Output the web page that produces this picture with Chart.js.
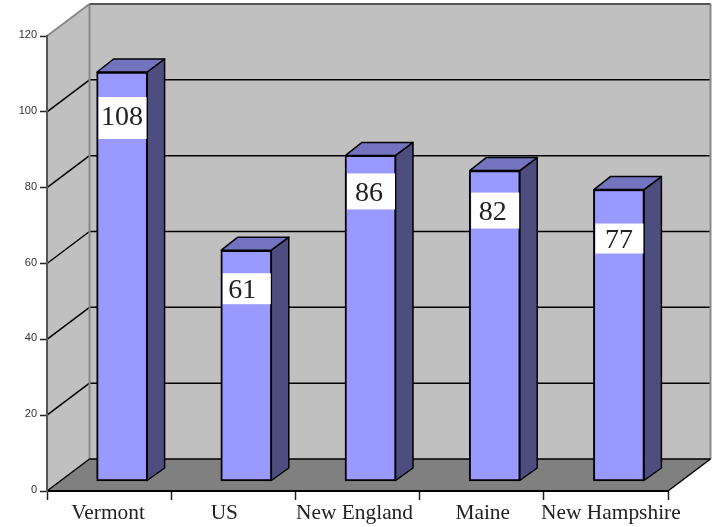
<!DOCTYPE html>
<html>
<head>
<meta charset="utf-8">
<style>
  html, body { margin: 0; padding: 0; background: #fff; }
  canvas { display: block; }
</style>
<script src="https://cdn.jsdelivr.net/npm/chart.js@4"></script>
</head>
<body>
<canvas id="chart" width="718" height="527"></canvas>
<script>
const categories = ["Vermont", "US", "New England", "Maine", "New Hampshire"];
const values = [108, 61, 86, 82, 77];
const yTicks = [0, 20, 40, 60, 80, 100, 120];

// nudge das legendas do eixo x, a referência não as centra na categoria
const labelNudge = [-1, -9, -3, 1, 5];
// caixa branca do rótulo: distância ao topo da barra e altura
const boxInset = [25, 23, 18, 22, 34];
const boxHeight = [42, 31, 36, 36, 30];
// deslocamento do número dentro da caixa
const valueNudgeX = [0, -4, -1.5, -2, 0];
const valueNudgeY = [0, 2, 2, 2, 2];

const WALL = { dx: 42.5, dy: 32 };   // profundidade das paredes
const BAR = { dx: 17, dy: 13 };      // profundidade da barra
const SHIFT = { x: 13, y: -9.5 };    // face da barra em relação ao plano do eixo

const colors = {
  wall: "#c0c0c0", floor: "#808080", edge: "#888888",
  front: "#9999ff", top: "#7373bf", side: "#4d4d80", line: "#000000", text: "#222222"
};

function poly(ctx, pts, fill, stroke, width) {
  ctx.beginPath();
  pts.forEach((p, i) => i ? ctx.lineTo(p[0], p[1]) : ctx.moveTo(p[0], p[1]));
  ctx.closePath();
  if (fill) { ctx.fillStyle = fill; ctx.fill(); }
  if (stroke) { ctx.strokeStyle = stroke; ctx.lineWidth = width; ctx.lineJoin = "round"; ctx.stroke(); }
}

function seg(ctx, x1, y1, x2, y2, color, width) {
  ctx.beginPath();
  ctx.moveTo(x1, y1); ctx.lineTo(x2, y2);
  ctx.strokeStyle = color; ctx.lineWidth = width; ctx.stroke();
}

const box3d = {
  id: "box3d",
  // paredes, chão e grade
  beforeDraw(chart) {
    const { ctx, scales: { x, y } } = chart;
    const l = x.left, r = x.right, b = y.bottom, t = y.top;
    const d = WALL;
    ctx.save();
    poly(ctx, [[l, b], [l + d.dx, b - d.dy], [l + d.dx, t - d.dy], [l, t]], colors.wall);
    poly(ctx, [[l + d.dx, b - d.dy], [r + d.dx, b - d.dy], [r + d.dx, t - d.dy], [l + d.dx, t - d.dy]], colors.wall);
    poly(ctx, [[l, b], [r, b], [r + d.dx, b - d.dy], [l + d.dx, b - d.dy]], colors.floor);
    yTicks.forEach((v) => {
      if (v === 0 || v === 120) return;
      const py = y.getPixelForValue(v);
      seg(ctx, l, py, l + d.dx, py - d.dy, colors.line, 1.5);
      seg(ctx, l + d.dx, py - d.dy, r + d.dx, py - d.dy, colors.line, 1.5);
    });
    seg(ctx, l + d.dx, t - d.dy, l + d.dx, b - d.dy, colors.edge, 2);
    seg(ctx, r + d.dx, t - d.dy, r + d.dx, b - d.dy, colors.edge, 2);
    seg(ctx, l, t, l + d.dx, t - d.dy, colors.edge, 2);
    seg(ctx, l + d.dx, t - d.dy, r + d.dx, t - d.dy, "#555555", 2);
    seg(ctx, l, b, l + d.dx, b - d.dy, colors.line, 1.5);
    seg(ctx, l + d.dx, b - d.dy, r + d.dx, b - d.dy, colors.line, 1.5);
    seg(ctx, r, b, r + d.dx, b - d.dy, colors.line, 1.5);
    ctx.restore();
  },
  // lados e topos antes das faces; a face nativa é deslocada para a profundidade da barra
  beforeDatasetDraw(chart, args) {
    const ctx = chart.ctx;
    ctx.save();
    ctx.translate(SHIFT.x, SHIFT.y);
    args.meta.data.forEach((bar) => {
      const x1 = bar.x - bar.width / 2, x2 = bar.x + bar.width / 2;
      const top = bar.y, base = bar.base;
      const inset = 0.5;
      poly(ctx, [[x2 - inset, top], [x2 + BAR.dx, top - BAR.dy], [x2 + BAR.dx, base - BAR.dy], [x2 - inset, base - inset]], colors.side, colors.line, 1.5);
      poly(ctx, [[x1 + inset, top], [x1 + BAR.dx, top - BAR.dy], [x2 + BAR.dx, top - BAR.dy], [x2 - inset, top]], colors.top, colors.line, 1.5);
    });
  },
  afterDatasetDraw(chart, args) {
    const ctx = chart.ctx;
    ctx.restore();
    // caixas brancas com o valor
    ctx.save();
    args.meta.data.forEach((bar, i) => {
      const x1 = bar.x + SHIFT.x - bar.width / 2 + 2;
      const top = bar.y + SHIFT.y + boxInset[i];
      ctx.fillStyle = "#ffffff";
      ctx.fillRect(x1, top, bar.width - 3, boxHeight[i]);
      ctx.fillStyle = colors.text;
      ctx.font = "28px 'Liberation Serif'";
      ctx.textAlign = "center";
      ctx.textBaseline = "middle";
      ctx.fillText(String(values[i]), bar.x + SHIFT.x + valueNudgeX[i], top + boxHeight[i] / 2 + valueNudgeY[i]);
    });
    ctx.restore();
  },
  // legendas do eixo x com o deslocamento de cada uma
  afterDraw(chart) {
    const { ctx, scales: { x } } = chart;
    ctx.save();
    ctx.fillStyle = colors.text;
    ctx.font = "21.4px 'Liberation Serif'";
    ctx.textAlign = "center";
    ctx.textBaseline = "alphabetic";
    categories.forEach((c, i) => ctx.fillText(c, x.getPixelForValue(i) + labelNudge[i], 519));
    ctx.restore();
  }
};

new Chart(document.getElementById("chart").getContext("2d"), {
  type: "bar",
  data: {
    labels: categories,
    datasets: [{
      data: values,
      backgroundColor: colors.front,
      borderColor: colors.line,
      borderWidth: 2,
      borderSkipped: false,
      barThickness: 51,
      clip: false
    }]
  },
  options: {
    responsive: false,
    animation: false,
    layout: { padding: { top: 36, right: 50, left: 0, bottom: 0 } },
    plugins: { legend: { display: false }, tooltip: { enabled: false }, title: { display: false } },
    scales: {
      x: {
        afterFit(s) { s.height = 36; },
        grid: { drawOnChartArea: false, drawTicks: true, tickLength: 9, tickColor: "#222222", tickWidth: 1.5, offset: true },
        border: { color: colors.line, width: 2 },
        ticks: { display: false }
      },
      y: {
        min: 0, max: 120,
        afterFit(s) { s.width = 47; },
        afterBuildTicks(s) { s.ticks = yTicks.map((v) => ({ value: v })); },
        grid: { drawOnChartArea: false, drawTicks: true, tickLength: 7, tickColor: "#222222", tickWidth: 1.5 },
        border: { color: "#555555", width: 2 },
        ticks: { color: "#333333", padding: 3, labelOffset: -1, font: { family: "'Liberation Sans'", size: 11 } }
      }
    }
  },
  plugins: [box3d]
});
</script>
</body>
</html>
